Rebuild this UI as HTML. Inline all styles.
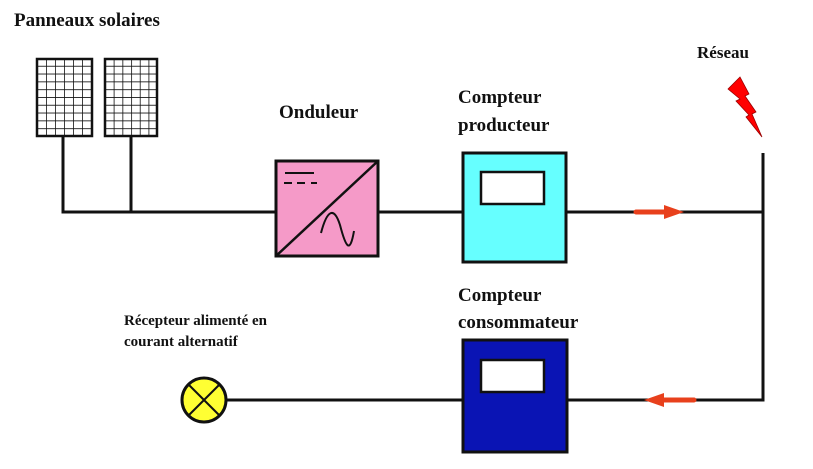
<!DOCTYPE html>
<html><head><meta charset="utf-8"><style>
html,body{margin:0;padding:0;background:#fff;}
svg text{font-family:"Liberation Serif",serif;font-weight:bold;fill:#111;}
</style></head><body>
<svg width="813" height="464" viewBox="0 0 813 464" xmlns="http://www.w3.org/2000/svg">
<defs>
<pattern id="g" x="37" y="58" width="9" height="7.8" patternUnits="userSpaceOnUse">
<rect width="9" height="7.8" fill="#fff"/>
<path d="M0 0H9M0 0V7.8" stroke="#111" stroke-width="1.6"/>
</pattern>
<pattern id="g2" x="105" y="58" width="8.7" height="7.8" patternUnits="userSpaceOnUse">
<rect width="8.7" height="7.8" fill="#fff"/>
<path d="M0 0H8.7M0 0V7.8" stroke="#111" stroke-width="1.6"/>
</pattern>
</defs>
<text x="14" y="26" font-size="19">Panneaux solaires</text>
<rect x="37" y="59" width="55" height="77" fill="url(#g)" stroke="#111" stroke-width="2.5"/>
<rect x="105" y="59" width="52" height="77" fill="url(#g2)" stroke="#111" stroke-width="2.5"/>
<g stroke="#111" stroke-width="3" fill="none">
<path d="M63 136V212H276M131 136V212"/>
<path d="M378 212H463M566 212H763M763 153V400H566M463 400H226"/>
</g>
<text x="279" y="118" font-size="19">Onduleur</text>
<rect x="276" y="161" width="102" height="95" fill="#f59ac8" stroke="#111" stroke-width="3"/>
<path d="M276 256L378 161" stroke="#111" stroke-width="2.5"/>
<path d="M285 173H314" stroke="#111" stroke-width="2"/>
<path d="M284 183H292M297 183H305M311 183H317" stroke="#111" stroke-width="2"/>
<path d="M321 233C327 210 334 206 340 225C346 248 350 254 354 231" stroke="#111" stroke-width="2" fill="none"/>
<text x="458" y="103" font-size="19">Compteur</text>
<text x="458" y="131" font-size="19">producteur</text>
<rect x="463" y="153" width="103" height="109" fill="#66ffff" stroke="#111" stroke-width="3"/>
<rect x="481" y="172" width="63" height="32" fill="#fff" stroke="#111" stroke-width="2.5"/>
<text x="697" y="58" font-size="17">Réseau</text>
<polygon points="728,89 740,77 749,94 745,96 756,112 752,114 762,137 746,117 749,115 736,101 740,99" fill="#f00" stroke="#900" stroke-width="0.8"/>
<path d="M636 212H668" stroke="#e8401c" stroke-width="5" stroke-linecap="round"/>
<polygon points="664,205 684,212 664,219" fill="#e8401c"/>
<path d="M660 400H694" stroke="#e8401c" stroke-width="5" stroke-linecap="round"/>
<polygon points="664,393 644,400 664,407" fill="#e8401c"/>
<text x="458" y="301" font-size="19">Compteur</text>
<text x="458" y="328" font-size="19">consommateur</text>
<rect x="463" y="340" width="104" height="112" fill="#0a14b4" stroke="#111" stroke-width="3"/>
<rect x="481" y="360" width="63" height="32" fill="#fff" stroke="#111" stroke-width="2.5"/>
<text x="124" y="325" font-size="15">Récepteur alimenté en</text>
<text x="124" y="346" font-size="15">courant alternatif</text>
<ellipse cx="204" cy="400" rx="22" ry="22" fill="#ffff33" stroke="#111" stroke-width="3"/>
<path d="M189 385L219 415M219 385L189 415" stroke="#111" stroke-width="2"/>
</svg>
</body></html>
